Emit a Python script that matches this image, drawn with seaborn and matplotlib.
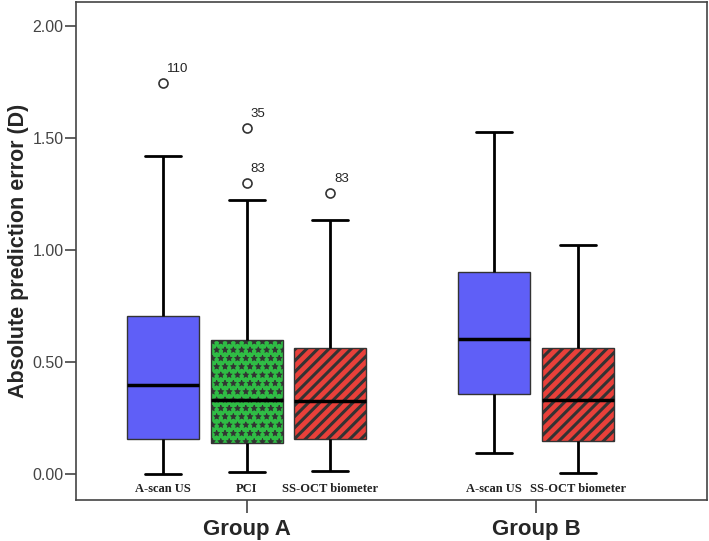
import numpy as np
import pandas as pd
import matplotlib
matplotlib.use("Agg")
import matplotlib.pyplot as plt
import seaborn as sns

# five-number summaries, one entry per box
groups = ["Group A", "Group A", "Group A", "Group B", "Group B"]
methods = ["A-scan US", "PCI", "SS-OCT biometer", "A-scan US", "SS-OCT biometer"]
whisker_low = [0.00, 0.01, 0.015, 0.095, 0.005]
q1 = [0.156, 0.14, 0.155, 0.355, 0.145]
median = [0.395, 0.33, 0.325, 0.60, 0.33]
q3 = [0.705, 0.597, 0.561, 0.90, 0.562]
whisker_high = [1.417, 1.22, 1.132, 1.524, 1.022]

# outliers: which box, value, case label
outlier_box = [0, 1, 1, 2]
outlier_value = [1.745, 1.543, 1.30, 1.253]
outlier_label = ["110", "35", "83", "83"]

group_names = ["Group A", "Group B"]
colors = {"A-scan US": "#5f5ff7", "PCI": "#2fbd45", "SS-OCT biometer": "#e8403a"}
hatches = {"A-scan US": "", "PCI": "**", "SS-OCT biometer": "///"}
hatch_lw = {"A-scan US": 1.0, "PCI": 0.6, "SS-OCT biometer": 2.2}

sns.set_style("white")
plt.rcParams["hatch.linewidth"] = 2.2
plt.rcParams["font.family"] = ["Liberation Sans", "DejaVu Sans"]

# slot positions on the x axis
group_start = {"Group A": 0.0, "Group B": 3.92}
pos = []
seen = {}
for g in groups:
    k = seen.get(g, 0)
    pos.append(group_start[g] + k * 0.99)
    seen[g] = k + 1

rows = []
for i in range(len(groups)):
    for v in (whisker_low[i], q1[i], median[i], q3[i], whisker_high[i]):
        rows.append({"pos": pos[i], "method": methods[i], "value": v})
df = pd.DataFrame(rows)

fig = plt.figure(figsize=(7.09, 5.41), dpi=100)
ax = fig.add_axes([0.1065, 0.076, 0.891, 0.921])

sns.boxplot(data=df, x="pos", y="value", hue="method", palette=colors,
            native_scale=True, dodge=False, width=0.86, whis=(0, 100),
            saturation=1, linecolor="#333333", linewidth=1, legend=False,
            medianprops=dict(color="black", linewidth=2.5),
            whiskerprops=dict(color="black", linewidth=2),
            capprops=dict(color="black", linewidth=2), ax=ax)

# hatch each box by its method
for p in ax.patches:
    cx = p.get_path().vertices[:, 0].mean()
    i = int(np.argmin([abs(cx - x) for x in pos]))
    p.set_hatch(hatches[methods[i]])
    if hasattr(p, "set_hatch_linewidth"):
        p.set_hatch_linewidth(hatch_lw[methods[i]])

# outliers
ox = [pos[b] for b in outlier_box]
sns.scatterplot(x=ox, y=outlier_value, marker="o", s=42, facecolor="white",
                edgecolor="#333333", linewidth=1.2, ax=ax, zorder=5)
for x, y, t in zip(ox, outlier_value, outlier_label):
    ax.annotate(t, (x, y), xytext=(3, 10), textcoords="offset points",
                ha="left", va="center", fontsize=9.5, color="#222222")

# category labels inside the axes
for x, m in zip(pos, methods):
    ax.text(x, 0.022, m, transform=ax.get_xaxis_transform(), ha="center",
            va="center", fontsize=9, fontweight="bold", color="#222222",
            family=["Liberation Serif", "DejaVu Serif"])

ax.set_xlim(-1.035, 6.44)
ax.set_ylim(-0.116, 2.107)
centers = [pos[1], (pos[3] + pos[4]) / 2]
ax.set_xticks(centers)
ax.set_xticklabels(group_names, fontsize=16, fontweight="bold")
ax.set_yticks([0, 0.5, 1.0, 1.5, 2.0])
ax.set_yticklabels([f"{v:.2f}" for v in [0, 0.5, 1.0, 1.5, 2.0]],
                   fontsize=11.5, color="#444444")
ax.tick_params(axis="x", bottom=True, length=9.5, width=1.2, color="#444444", pad=4)
ax.tick_params(axis="y", left=True, length=8, width=1.2, color="#444444", pad=0.5)
ax.set_xlabel("")
ax.set_ylabel("Absolute prediction error (D)", fontsize=15.5, fontweight="bold")
ax.yaxis.set_label_coords(-0.074, 0.5)
for s in ax.spines.values():
    s.set_color("#444444")
    s.set_linewidth(1.2)

fig.savefig("out.png", dpi=100)
